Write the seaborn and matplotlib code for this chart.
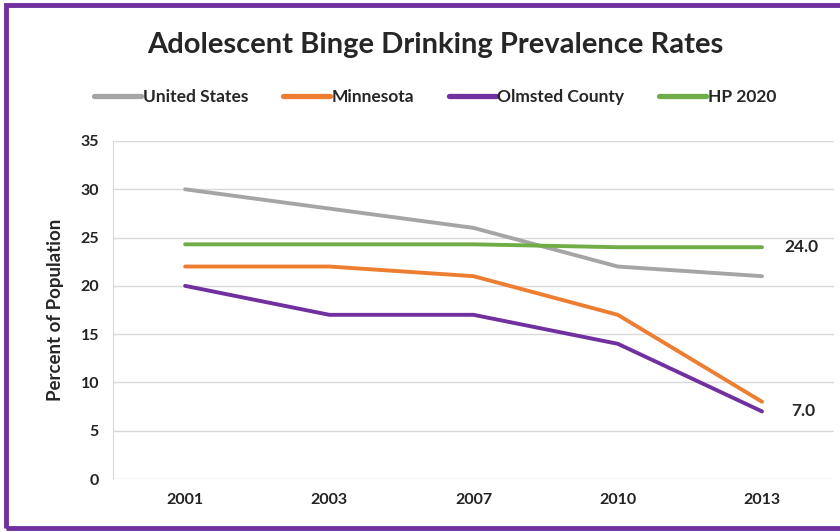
import matplotlib
matplotlib.use("Agg")
import matplotlib.pyplot as plt
from matplotlib.patches import Rectangle
import seaborn as sns
import pandas as pd

years = ["2001", "2003", "2007", "2010", "2013"]
united_states = [30, 28, 26, 22, 21]
minnesota = [22, 22, 21, 17, 8]
olmsted = [20, 17, 17, 14, 7]
hp2020 = [24.3, 24.3, 24.3, 24.0, 24.0]

series_names = ["United States", "Minnesota", "Olmsted County", "HP 2020"]
colors = ["#A5A5A5", "#ED7D31", "#7030A0", "#70AD47"]

rows = []
for name, vals in zip(series_names, [united_states, minnesota, olmsted, hp2020]):
    for y, v in zip(years, vals):
        rows.append({"Year": y, "Value": v, "Series": name})
df = pd.DataFrame(rows)

sns.set_style("white")
plt.rcParams["font.family"] = ["Lato", "DejaVu Sans"]

fig = plt.figure(figsize=(8.4, 5.32), dpi=100)
ax = fig.add_axes([0.1345, 0.0996, 0.8585, 0.6354])

sns.lineplot(data=df, x="Year", y="Value", hue="Series", hue_order=series_names,
             palette=colors, linewidth=2.8, ax=ax, sort=False, legend=True)

ax.set_xlim(-0.5, 4.5)
ax.set_ylim(0, 35)
ax.set_yticks(range(0, 36, 5))
ax.grid(axis="y", color="#D9D9D9", linewidth=1)
ax.set_axisbelow(True)
for s in ["top", "right", "bottom"]:
    ax.spines[s].set_visible(False)
ax.spines["left"].set_color("#D9D9D9")
ax.tick_params(axis="both", length=0, labelsize=11.5, pad=10)
for lbl in ax.get_xticklabels() + ax.get_yticklabels():
    lbl.set_fontweight("bold")
    lbl.set_color("#222222")
ax.set_xlabel("")
ax.set_ylabel("Percent of Population", fontsize=13.5, fontweight="bold", labelpad=12)

# end-point value labels
ax.annotate(f"{hp2020[-1]:.1f}", xy=(4, hp2020[-1]), xytext=(16, 0), textcoords="offset points",
            va="center", ha="left", fontsize=12.5, fontweight="bold")
ax.annotate(f"{olmsted[-1]:.1f}", xy=(4, olmsted[-1]), xytext=(21, 0), textcoords="offset points",
            va="center", ha="left", fontsize=12.5, fontweight="bold")

handles, labels = ax.get_legend_handles_labels()
ax.get_legend().remove()
leg = fig.legend(handles, labels, loc="center", bbox_to_anchor=(0.518, 0.818),
                 ncol=4, frameon=False, handlelength=2.7, handletextpad=0.1, columnspacing=2.0,
                 prop={"size": 12.5, "weight": "bold"})
for h in leg.get_lines():
    h.set_linewidth(3.8)

fig.text(0.518, 0.915, "Adolescent Binge Drinking Prevalence Rates", ha="center", va="center",
         fontsize=21, fontweight="bold")

# purple frame around the figure
fig.patches.append(Rectangle((5.5 / 840, 4.5 / 532), 1.2, 1 - 9 / 532, transform=fig.transFigure,
                             fill=False, edgecolor="#7030A0", linewidth=3.5))

fig.savefig("out.png", dpi=100)
